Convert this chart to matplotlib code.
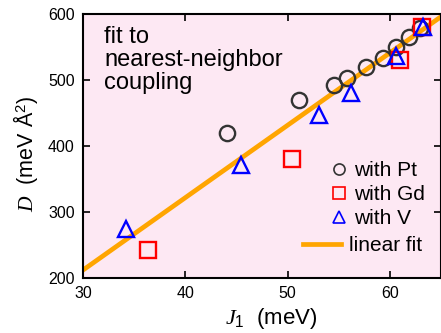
import matplotlib
matplotlib.use('Agg')
import matplotlib.pyplot as plt
from matplotlib.lines import Line2D
import numpy as np

plt.rcParams['font.family'] = ['Liberation Sans', 'DejaVu Sans']
plt.rcParams['mathtext.fontset'] = 'custom'
plt.rcParams['mathtext.it'] = 'Liberation Serif:italic'
plt.rcParams['mathtext.rm'] = 'Liberation Sans'

# data
pt_J = [44.1, 51.1, 54.5, 55.8, 57.7, 59.3, 60.6, 61.9, 62.9]
pt_D = [419, 470, 493, 503, 519, 533, 550, 565, 579]
gd_J = [36.4, 50.4, 61.0, 63.1]
gd_D = [242, 380, 531, 580]
v_J = [34.2, 45.4, 53.1, 56.2, 60.6, 63.2]
v_D = [274, 371, 447, 480, 537, 581]
fit_slope = 10.97
fit_intercept = 212 - 10.97 * 30

fig = plt.figure(figsize=(4.41, 3.33), dpi=100)
ax = fig.add_axes([83 / 441, 55 / 333, 358 / 441, 264 / 333])
ax.set_facecolor('#fde8f3')

xx = np.array([30, 65])
ax.plot(xx, fit_intercept + fit_slope * xx, color='#ffa500', lw=3.4, zorder=2)
ax.plot(pt_J, pt_D, 'o', mfc='none', mec='#333333', mew=1.7, ms=11, zorder=3)
ax.plot(gd_J, gd_D, 's', mfc='none', mec='red', mew=1.7, ms=11, zorder=3)
ax.plot(v_J, v_D, '^', mfc='none', mec='blue', mew=1.7, ms=12, zorder=4)

ax.set_xlim(30, 65)
ax.set_ylim(200, 600)
ax.set_xticks([30, 40, 50, 60])
ax.set_yticks([200, 300, 400, 500, 600])
ax.tick_params(direction='in', top=True, right=True, length=5, width=1.2,
               labelsize=11.5, pad=6)
for s in ax.spines.values():
    s.set_linewidth(1.5)

ax.set_xlabel(r'$\mathit{J}_{\mathit{1}}$  (meV)', fontsize=16)
ax.xaxis.set_label_coords(0.525, -0.105)
ax.set_ylabel(r'$\mathit{D}$  (meV Å$^{2}$)', fontsize=15.5)
ax.yaxis.set_label_coords(-0.12, 0.47)

ax.text(0.06, 0.955, 'fit to\nnearest-neighbor\ncoupling', transform=ax.transAxes,
        fontsize=17, va='top', ha='left', linespacing=1.05)

mk = [Line2D([], [], ls='none', marker='o', mfc='none', mec='#333333', mew=1.2, ms=8),
      Line2D([], [], ls='none', marker='s', mfc='none', mec='red', mew=1.2, ms=8),
      Line2D([], [], ls='none', marker='^', mfc='none', mec='blue', mew=1.2, ms=8)]
leg1 = ax.legend(mk, ['with Pt', 'with Gd', 'with V'], loc='upper left',
                 bbox_to_anchor=(249 / 358, 1 - 147 / 264), frameon=False,
                 fontsize=15, handlelength=0.7, handletextpad=0.35,
                 labelspacing=0.25, borderpad=0, borderaxespad=0)
ax.add_artist(leg1)
ax.legend([Line2D([], [], color='#ffa500', lw=3.4)], ['linear fit'], loc='upper left',
          bbox_to_anchor=(220 / 358, 1 - 222 / 264), frameon=False, fontsize=15,
          handlelength=1.8, handletextpad=0.4, borderpad=0, borderaxespad=0)

fig.savefig('out.png', dpi=100)
